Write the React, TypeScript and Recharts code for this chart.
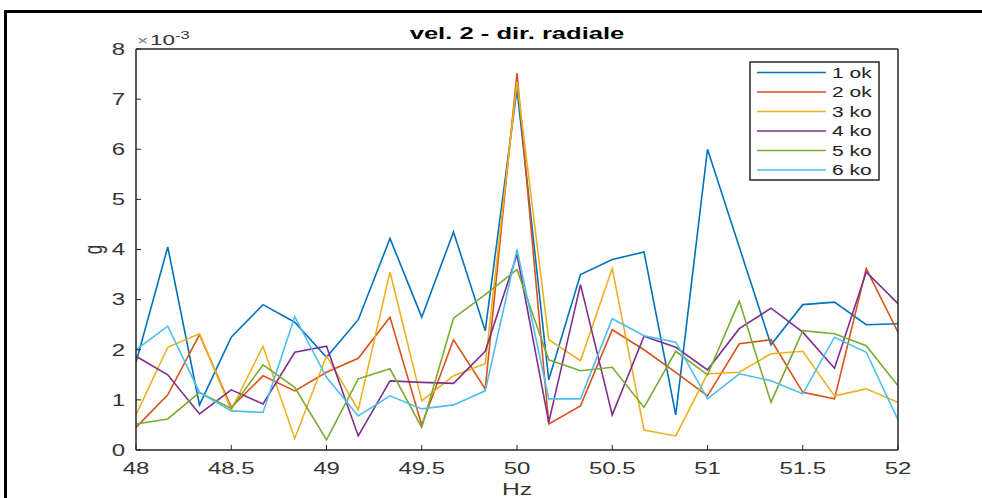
import React from 'react';
import { LineChart, Line, XAxis, YAxis, Legend, Label } from 'recharts';

// frequency (Hz)
const freq = [48, 48.1667, 48.3333, 48.5, 48.6667, 48.8333, 49, 49.1667, 49.3333, 49.5, 49.6667, 49.8333, 50, 50.1667, 50.3333, 50.5, 50.6667, 50.8333, 51, 51.1667, 51.3333, 51.5, 51.6667, 51.8333, 52];

// amplitudes in g x 10^-3
const s1ok = [1.75, 4.05, 0.9, 2.25, 2.9, 2.55, 1.85, 2.6, 4.22, 2.65, 4.35, 2.38, 7.2, 1.4, 3.5, 3.8, 3.95, 0.7, 6.0, 4.05, 2.1, 2.9, 2.95, 2.5, 2.52];
const s2ok = [0.45, 1.1, 2.3, 0.85, 1.48, 1.18, 1.55, 1.83, 2.65, 0.5, 2.2, 1.22, 7.52, 0.52, 0.88, 2.4, 2.0, 1.55, 1.08, 2.12, 2.2, 1.15, 1.02, 3.62, 2.35];
const s3ko = [0.7, 2.05, 2.32, 0.8, 2.07, 0.23, 1.88, 0.8, 3.55, 0.98, 1.48, 1.72, 7.35, 2.2, 1.78, 3.62, 0.4, 0.28, 1.52, 1.55, 1.92, 1.97, 1.08, 1.22, 0.95];
const s4ko = [1.87, 1.5, 0.72, 1.2, 0.92, 1.95, 2.07, 0.28, 1.38, 1.35, 1.33, 1.97, 3.9, 0.55, 3.3, 0.7, 2.27, 2.05, 1.6, 2.42, 2.83, 2.35, 1.63, 3.55, 2.92];
const s5ko = [0.52, 0.62, 1.15, 0.83, 1.7, 1.25, 0.2, 1.42, 1.62, 0.45, 2.63, 3.1, 3.6, 1.8, 1.58, 1.65, 0.85, 1.97, 1.5, 2.97, 0.95, 2.38, 2.32, 2.08, 1.28];
const s6ko = [2.0, 2.47, 1.15, 0.78, 0.75, 2.66, 1.45, 0.68, 1.08, 0.82, 0.9, 1.18, 4.0, 1.02, 1.02, 2.62, 2.28, 2.15, 1.02, 1.52, 1.38, 1.12, 2.25, 1.95, 0.6];

const xTicks = [48, 48.5, 49, 49.5, 50, 50.5, 51, 51.5, 52];
const yTicks = [0, 1, 2, 3, 4, 5, 6, 7, 8];

const seriesNames = ['1 ok', '2 ok', '3 ko', '4 ko', '5 ko', '6 ko'];
const seriesValues = [s1ok, s2ok, s3ko, s4ko, s5ko, s6ko];
const colors = ['#0072BD', '#D95319', '#EDB120', '#7E2F8E', '#77AC30', '#4DBEEE'];

const data = freq.map((f, i) => {
  const row: any = { f };
  seriesValues.forEach((s, k) => { row['s' + k] = s[i]; });
  return row;
});

const FONT = '"Liberation Sans", Arial, Helvetica, sans-serif';
const AX = '#262626';

const XTick = (props: any) => {
  const { x, y, payload } = props;
  return (
    <g transform={`translate(${x},${y}) scale(1.5,1)`}>
      <text x={0} y={0} dy="0.71em" textAnchor="middle" fontSize={16} fill="#333" fontFamily={FONT}>
        {payload.value}
      </text>
    </g>
  );
};

const YTick = (props: any) => {
  const { x, y, payload } = props;
  return (
    <g transform={`translate(${x},${y}) scale(1.5,1)`}>
      <text x={0} y={0} dy="0.36em" textAnchor="end" fontSize={16} fill="#333" fontFamily={FONT}>
        {payload.value}
      </text>
    </g>
  );
};

const renderLegend = (props: any) => {
  const payload = props.payload || [];
  return (
    <svg width={132} height={121} style={{ display: 'block' }}>
      <rect x={1} y={1} width={129} height={118} fill="#fff" stroke={AX} strokeWidth={1.5} />
      {payload.map((p: any, i: number) => {
        const yy = 11.5 + i * 19.5;
        return (
          <g key={i}>
            <line x1={8} x2={77} y1={yy} y2={yy} stroke={p.color} strokeWidth={1.6} />
            <g transform={`translate(83,${yy}) scale(1.4,1)`}>
              <text x={0} y={0} dy="0.36em" fontSize={15} fill="#222" fontFamily={FONT}>{p.value}</text>
            </g>
          </g>
        );
      })}
    </svg>
  );
};

const TitleLabel = (props: any) => {
  const vb = props.viewBox || { x: 0, y: 0, width: 0 };
  const cx = vb.x + vb.width / 2;
  return (
    <g transform={`translate(${cx},${vb.y - 9}) scale(1.6,1)`}>
      <text x={0} y={0} textAnchor="middle" fontSize={16} fontWeight="bold" fill="#000" fontFamily={FONT}>
        vel. 2 - dir. radiale
      </text>
    </g>
  );
};

const XLabel = (props: any) => {
  const vb = props.viewBox || { x: 0, y: 0, width: 0 };
  const cx = vb.x + vb.width / 2;
  return (
    <g transform={`translate(${cx},${vb.y + 45}) scale(1.45,1)`}>
      <text x={0} y={0} textAnchor="middle" fontSize={17} fill="#333" fontFamily={FONT}>Hz</text>
    </g>
  );
};

const YLabel = (props: any) => {
  const vb = props.viewBox || { x: 0, y: 0, height: 0 };
  const cy = vb.y + vb.height / 2;
  return (
    <g>
      <g transform={`translate(${vb.x - 33},${cy}) rotate(-90) scale(1,1.5)`}>
        <text x={0} y={0} textAnchor="middle" fontSize={17} fill="#333" fontFamily={FONT}>g</text>
      </g>
      <g transform={`translate(${vb.x + 2},${vb.y - 4}) scale(1.5,1)`}>
        <text x={0} y={0} fontSize={13} fill="#555" fontFamily={FONT}>
          <tspan fill="#777">×</tspan>
          <tspan dx={1} fontSize={15} fill="#333">10</tspan>
          <tspan dy={-6} fontSize={11} fill="#333">-3</tspan>
        </text>
      </g>
    </g>
  );
};

export default function App() {
  return (
    <div style={{ position: 'absolute', left: 0, top: 0, width: 982, height: 498, background: '#fff', overflow: 'hidden' }}>
      <div
        style={{
          position: 'absolute', left: 4, top: 10, width: 978, height: 488,
          borderTop: '3px solid #000', borderLeft: '3px solid #000', boxSizing: 'border-box', pointerEvents: 'none',
        }}
      />
      <div style={{ position: 'absolute', left: 0, top: 0 }}>
        <LineChart width={982} height={498} data={data} margin={{ top: 48, right: 83, bottom: 0, left: 135 }}>
          <XAxis
            dataKey="f" type="number" domain={[48, 52]} ticks={xTicks} allowDataOverflow
            height={48} stroke={AX} tickSize={-5} tickMargin={18} tick={<XTick />} interval={0}
            axisLine={{ stroke: AX, strokeWidth: 1.5 }} tickLine={{ stroke: AX }}
          >
            <Label content={<XLabel />} />
          </XAxis>
          <XAxis
            xAxisId="top" orientation="top" dataKey="f" type="number" domain={[48, 52]} ticks={xTicks} allowDataOverflow
            height={1} stroke={AX} tickSize={-5} tick={false} interval={0}
            axisLine={{ stroke: AX, strokeWidth: 1.5 }} tickLine={{ stroke: AX }}
          >
            <Label content={<TitleLabel />} />
          </XAxis>
          <YAxis
            type="number" domain={[0, 8]} ticks={yTicks} allowDataOverflow width={1} stroke={AX}
            tickSize={-5} tickMargin={16} tick={<YTick />} interval={0}
            axisLine={{ stroke: AX, strokeWidth: 1.5 }} tickLine={{ stroke: AX }}
          >
            <Label content={<YLabel />} />
          </YAxis>
          <YAxis
            yAxisId="right" orientation="right" type="number" domain={[0, 8]} ticks={yTicks} allowDataOverflow
            width={1} stroke={AX} tickSize={-5} tick={false} interval={0}
            axisLine={{ stroke: AX, strokeWidth: 1.5 }} tickLine={{ stroke: AX }}
          />
          {seriesNames.map((name, k) => (
            <Line
              key={name} type="linear" dataKey={'s' + k} name={name} stroke={colors[k]} strokeWidth={1.6}
              dot={false} activeDot={false} isAnimationActive={false}
            />
          ))}
          <Legend
            layout="vertical" align="center" verticalAlign="middle"
            wrapperStyle={{ left: 749, top: 61, width: 132, height: 121 }}
            content={renderLegend}
          />
        </LineChart>
      </div>
    </div>
  );
}
